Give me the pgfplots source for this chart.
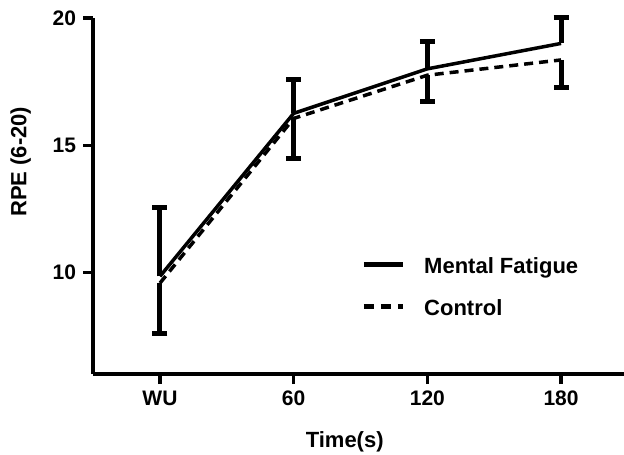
\documentclass[border=0pt]{standalone}
\usepackage{fontspec}
\setmainfont{Liberation Sans}
\usepackage{pgfplots}
\pgfplotsset{compat=1.18}
\begin{document}
\begin{tikzpicture}
\useasboundingbox (0,0) rectangle (312pt,227pt);
\begin{axis}[
  at={(46.5pt,40pt)}, anchor=south west,
  scale only axis, width=265.5pt, height=178pt,
  xmin=-0.501, xmax=3.471, ymin=6, ymax=20,
  axis lines=left, axis line style={-, line width=1.6pt},
  tick align=outside, major tick length=5pt,
  every tick/.style={line width=1.6pt, black},
  xtick={0,1,2,3}, xticklabels={WU,60,120,180},
  ytick={10,15,20},
  /pgf/number format/assume math mode=true,
  ticklabel style={font=\bfseries\fontsize{10.5}{12}\selectfont},
  xlabel={Time(s)}, ylabel={RPE (6-20)},
  label style={font=\bfseries\fontsize{11}{13}\selectfont},
  xlabel style={at={(axis description cs:0.474,-0.191)}, anchor=center},
  ylabel style={at={(axis description cs:-0.136,0.596)}, anchor=center, rotate=0},
  clip=false,
  legend style={at={(axis description cs:0.5047,0.3287)}, anchor=north west,
    draw=none, fill=none, inner sep=0pt, row sep=11pt, column sep=9.5pt,
    nodes={inner sep=0pt, text height=8pt, text depth=2pt, anchor=base west},
    font=\bfseries\fontsize{11}{13}\selectfont},
  legend cell align=left,
]
\addplot[black, line width=1.75pt,
  legend image code/.code={\draw[black, line width=2.4pt] (0pt,4.5pt) -- (19.5pt,4.5pt);},
  error bars/.cd, y dir=plus, y explicit, error mark=|,
  error bar style={line width=2.5pt, black},
  error mark options={line width=2.5pt, mark size=3.75pt, black}]
  table[x=x, y=y, y error=e] {
  x y e
  0 9.84 2.70
  1 16.25 1.35
  2 18.00 1.06
  3 19.00 1.00
};
\addlegendentry{Mental Fatigue}
\addplot[black, line width=1.75pt, dash pattern=on 4.5pt off 3pt,
  legend image code/.code={\draw[black, line width=2.2pt, dash pattern=on 5pt off 3.5pt] (0pt,4.5pt) -- (19.5pt,4.5pt);},
  error bars/.cd, y dir=minus, y explicit, error mark=|,
  error bar style={line width=2.5pt, black, solid},
  error mark options={line width=2.5pt, mark size=3.75pt, black, solid}]
  table[x=x, y=y, y error=e] {
  x y e
  0 9.575 1.98
  1 16.05 1.56
  2 17.75 1.05
  3 18.35 1.08
};
\addlegendentry{Control}
\end{axis}
\end{tikzpicture}
\end{document}
